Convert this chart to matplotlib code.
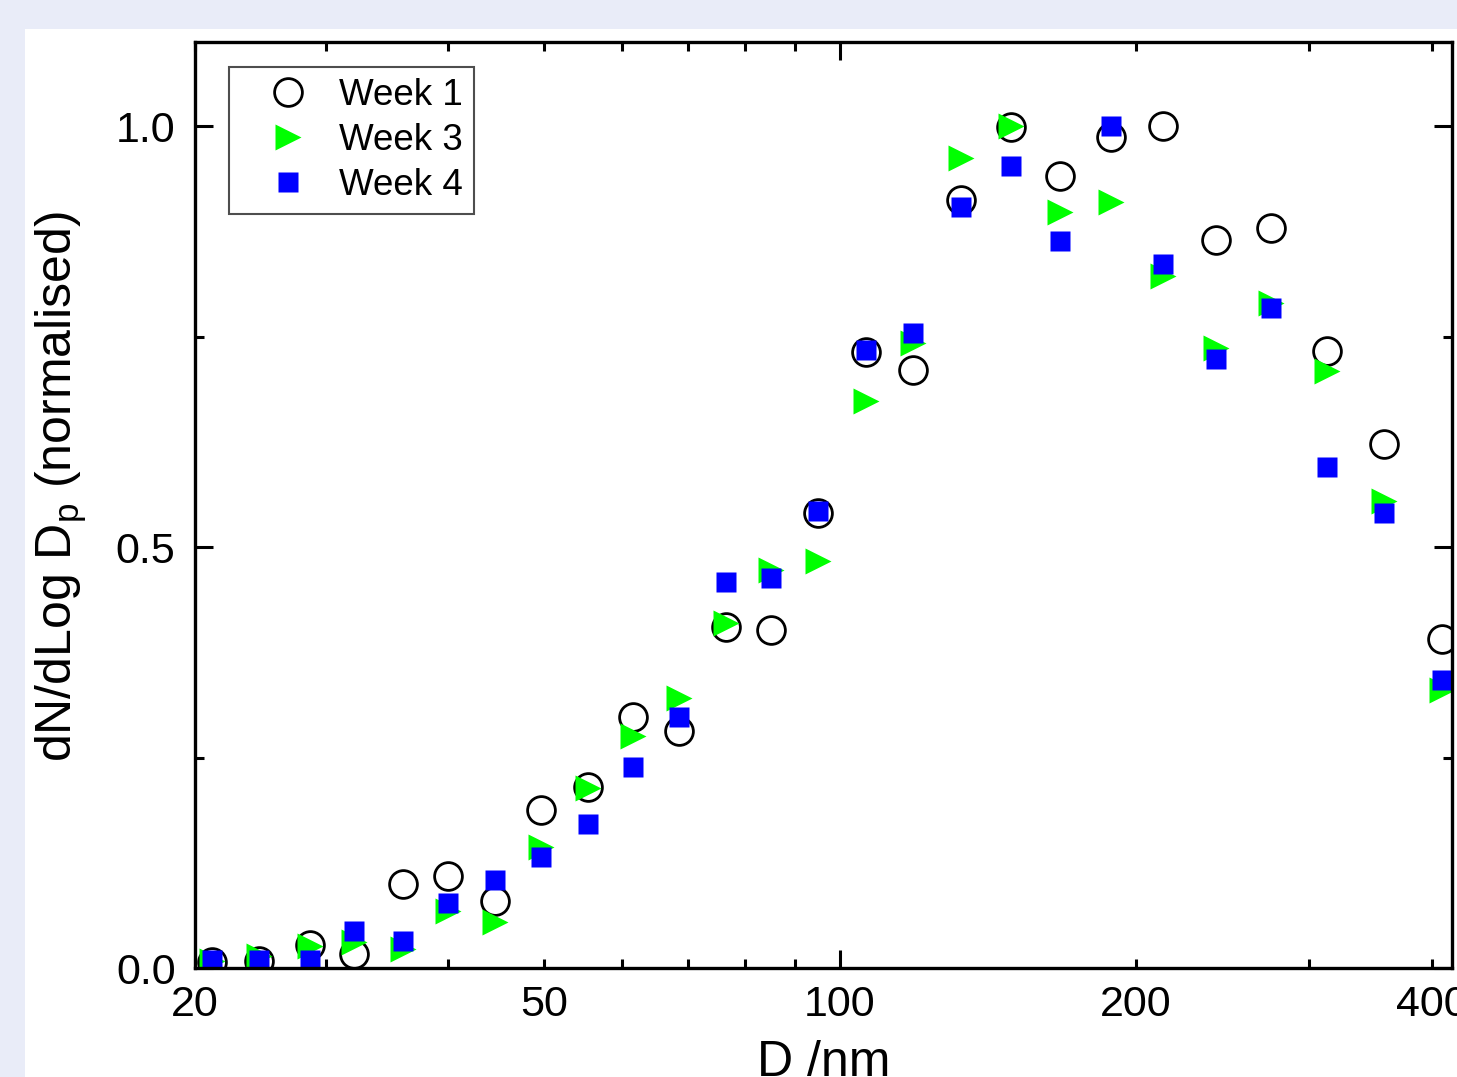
import matplotlib
matplotlib.use("Agg")
import matplotlib.pyplot as plt
from matplotlib.patches import Rectangle
from matplotlib.ticker import FixedLocator, FuncFormatter, NullFormatter

plt.rcParams["font.family"] = ["Liberation Sans", "DejaVu Sans"]
plt.rcParams["mathtext.default"] = "regular"

# Particle diameter bins (nm)
diameter = [23.0, 25.7, 28.9, 32.1, 36.0, 40.0, 44.6, 49.7, 55.4, 61.6,
            68.6, 76.6, 85.1, 95.0, 106.3, 118.7, 132.7, 149.2, 167.4, 188.6,
            213.0, 241.1, 274.3, 312.7, 357.4, 409.4]

# Normalised size distributions
week1 = [0.007, 0.008, 0.027, 0.017, 0.100, 0.109, 0.079, 0.188, 0.215, 0.298,
         0.281, 0.405, 0.401, 0.540, 0.732, 0.710, 0.912, 0.999, 0.941, 0.987,
         1.000, 0.865, 0.879, 0.733, 0.622, 0.391]
week3 = [0.008, 0.014, 0.026, 0.031, 0.022, 0.068, 0.055, 0.144, 0.214, 0.276,
         0.321, 0.410, 0.473, 0.484, 0.673, 0.743, 0.962, 1.000, 0.898, 0.910,
         0.822, 0.737, 0.790, 0.709, 0.555, 0.330]
week4 = [0.010, 0.010, 0.010, 0.044, 0.032, 0.077, 0.104, 0.132, 0.171, 0.239,
         0.298, 0.458, 0.463, 0.543, 0.734, 0.754, 0.904, 0.953, 0.864, 1.000,
         0.836, 0.723, 0.784, 0.595, 0.540, 0.342]

x_labels = {22.1: "20", 50: "50", 100: "100", 200: "200", 400: "400"}

fig = plt.figure(figsize=(14.57, 10.77), dpi=100, facecolor="#E9ECF8")
# white panel behind the plot
fig.patches.append(Rectangle((25 / 1457, 0), 1, 1 - 29 / 1077,
                             transform=fig.transFigure, facecolor="white",
                             edgecolor="none", zorder=-10))

ax = fig.add_axes([195 / 1457, 1 - 968 / 1077, 1257 / 1457, 926 / 1077])
ax.set_xscale("log")

ax.plot(diameter, week1, linestyle="none", marker="o", ms=20,
        mfc="none", mec="black", mew=2.0, label="Week 1")
ax.plot(diameter, week3, linestyle="none", marker=">", ms=19,
        color="#00FF00", mec="none", label="Week 3")
ax.plot(diameter, week4, linestyle="none", marker="s", ms=14.5,
        color="#0000FF", mec="none", label="Week 4")

ax.set_xlim(22.1, 419)
ax.set_ylim(0, 1.1)

# x ticks: long tick at the decade, short ticks elsewhere
ax.xaxis.set_major_locator(FixedLocator([100]))
ax.xaxis.set_major_formatter(FuncFormatter(lambda v, p: "100"))
minor_x = [22.1, 30, 40, 50, 60, 70, 80, 90, 200, 300, 400]
ax.xaxis.set_minor_locator(FixedLocator(minor_x))
ax.xaxis.set_minor_formatter(
    FuncFormatter(lambda v, p: x_labels.get(round(v, 1), "")))

ax.yaxis.set_major_locator(FixedLocator([0.0, 0.5, 1.0]))
ax.yaxis.set_major_formatter(FuncFormatter(lambda v, p: f"{v:.1f}"))
ax.yaxis.set_minor_locator(FixedLocator([0.25, 0.75]))
ax.yaxis.set_minor_formatter(NullFormatter())

ax.tick_params(which="both", direction="in", top=True, right=True,
               width=2.2, labelsize=31)
ax.tick_params(which="major", length=13, pad=12)
ax.tick_params(which="minor", length=6.5, pad=12)
ax.tick_params(axis="y", which="both", pad=14)
for s in ax.spines.values():
    s.set_linewidth(2.4)

ax.set_xlabel("D /nm", fontsize=36, labelpad=11)
ax.set_ylabel("dN/dLog D$_p$ (normalised)", fontsize=36)
ax.yaxis.set_label_coords(-0.084, 0.52)

leg = ax.legend(loc="upper left", bbox_to_anchor=(0.027, 0.973),
                borderaxespad=0, fontsize=26.5, frameon=True, fancybox=False,
                handletextpad=0.08, labelspacing=0.27, borderpad=0.3,
                handlelength=2.6)
leg.get_frame().set_edgecolor("#222222")
leg.get_frame().set_linewidth(1.5)

fig.savefig("out.png", dpi=100, facecolor=fig.get_facecolor())
